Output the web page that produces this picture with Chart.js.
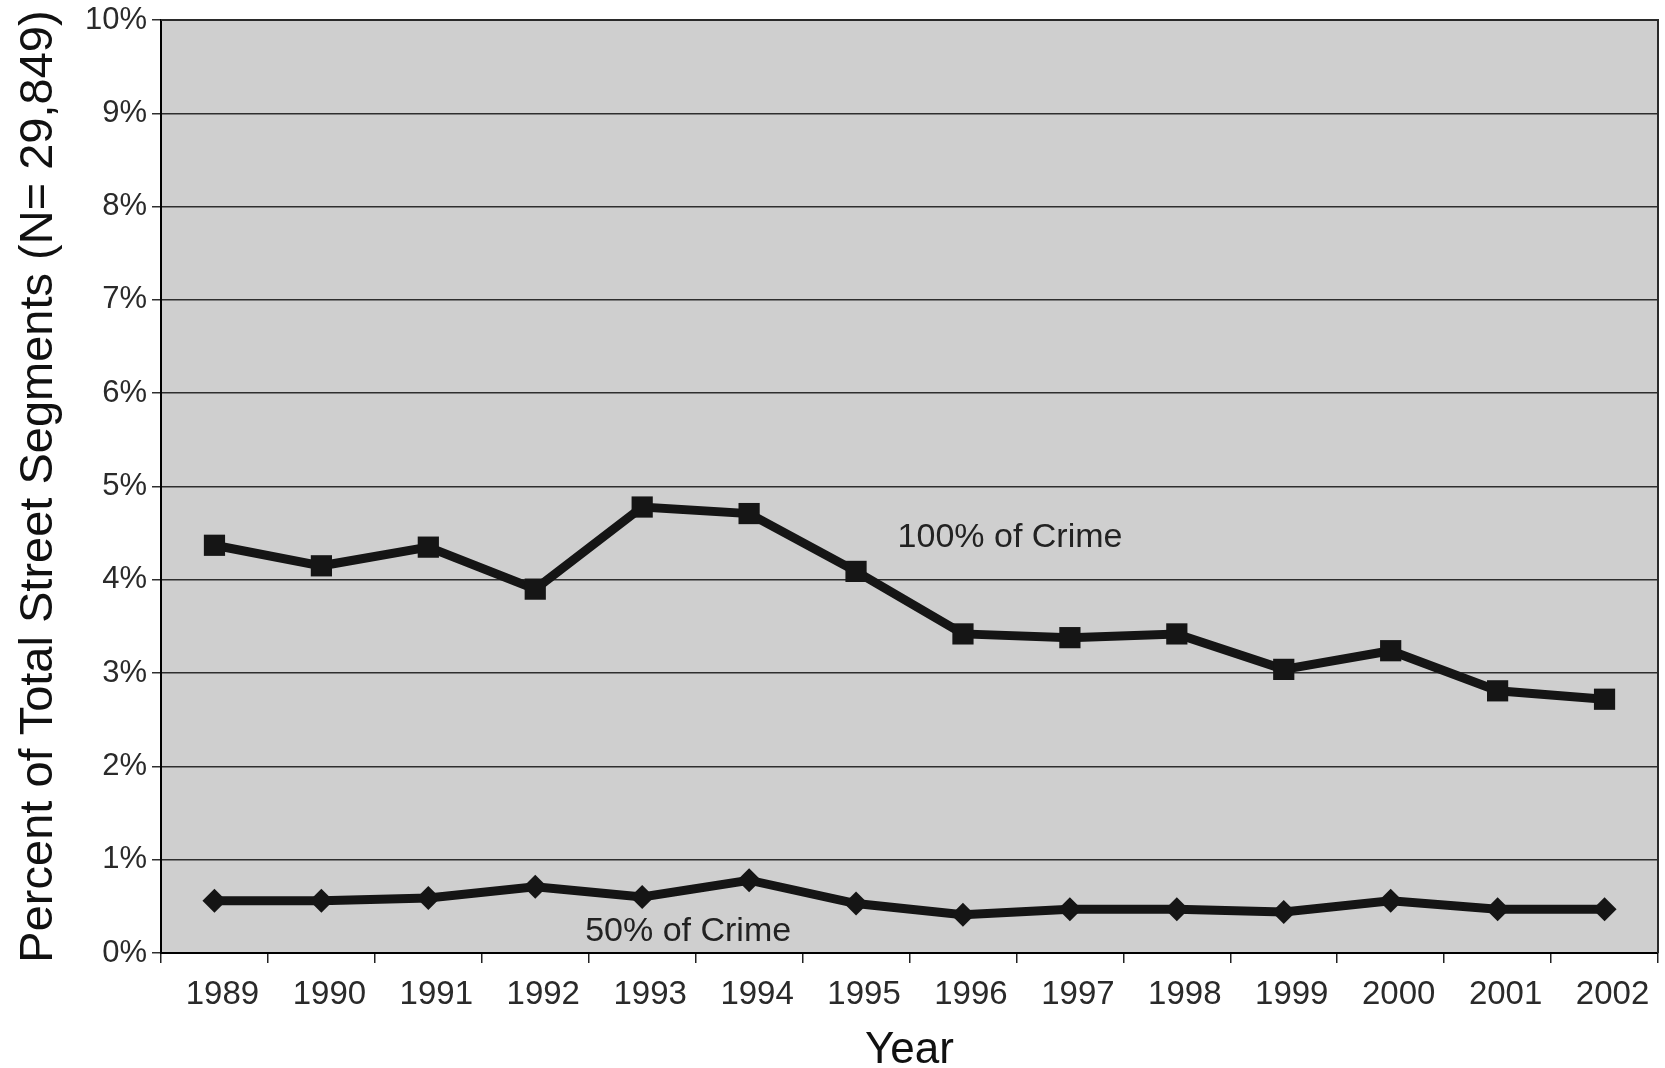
<!DOCTYPE html>
<html>
<head>
<meta charset="utf-8">
<title>Street segments</title>
<script src="https://cdn.jsdelivr.net/npm/chart.js@4/dist/chart.umd.min.js"></script>
<style>
  html, body { margin: 0; padding: 0; background: #fff; }
  #wrap { width: 1665px; height: 1068px; }
</style>
</head>
<body>
<div id="wrap"><canvas id="myChart" width="1665" height="1068"></canvas></div>
<script>
const years = ["1989", "1990", "1991", "1992", "1993", "1994", "1995",
  "1996", "1997", "1998", "1999", "2000", "2001", "2002"];
const crime100 = [4.37, 4.15, 4.35, 3.90, 4.78, 4.71, 4.09, 3.42, 3.38, 3.42, 3.04, 3.24, 2.81, 2.72];
const crime50 = [0.56, 0.56, 0.59, 0.71, 0.60, 0.78, 0.53, 0.41, 0.47, 0.47, 0.44, 0.56, 0.47, 0.47];
const seriesNames = ["100% of Crime", "50% of Crime"];

// where the series names sit (category index, value)
const labelSpots = [
  { text: seriesNames[0], x: 7.44, y: 4.45 },
  { text: seriesNames[1], x: 4.43, y: 0.23 },
];

const FONT = "'Liberation Sans', Arial, Helvetica, sans-serif";
const ink = "#151515";

const plotBox = {
  id: "plotBox",
  beforeDraw(chart) {
    const { ctx, chartArea: a } = chart;
    ctx.save();
    ctx.fillStyle = "#cfcfcf";
    ctx.fillRect(a.left, a.top, a.right - a.left, a.bottom - a.top);
    ctx.restore();
  },
  afterDraw(chart) {
    const { ctx, chartArea: a } = chart;
    ctx.save();
    ctx.strokeStyle = "#2a2a2a";
    ctx.lineWidth = 2;
    ctx.beginPath();
    ctx.moveTo(a.left, a.top);
    ctx.lineTo(a.right, a.top);
    ctx.lineTo(a.right, a.bottom);
    ctx.stroke();
    ctx.restore();
  },
};

const seriesLabels = {
  id: "seriesLabels",
  afterDatasetsDraw(chart) {
    const { ctx, scales } = chart;
    ctx.save();
    ctx.font = "34px " + FONT;
    ctx.fillStyle = "#222";
    ctx.textAlign = "center";
    ctx.textBaseline = "middle";
    labelSpots.forEach((s) => {
      ctx.fillText(s.text, scales.x.getPixelForValue(s.x), scales.y.getPixelForValue(s.y));
    });
    ctx.restore();
  },
};

const myChart = new Chart("myChart", {
  type: "line",
  data: {
    labels: years,
    datasets: [
      {
        label: seriesNames[0],
        data: crime100,
        borderColor: ink,
        backgroundColor: ink,
        borderWidth: 9,
        pointStyle: "rect",
        pointRadius: 15,
        pointBorderWidth: 0,
        tension: 0,
      },
      {
        label: seriesNames[1],
        data: crime50,
        borderColor: ink,
        backgroundColor: ink,
        borderWidth: 9,
        pointStyle: "rectRot",
        pointRadius: 12,
        pointBorderWidth: 0,
        tension: 0,
      },
    ],
  },
  plugins: [plotBox, seriesLabels],
  options: {
    responsive: false,
    animation: false,
    layout: { autoPadding: false, padding: { top: 20, right: 7, bottom: 0, left: 0 } },
    plugins: {
      legend: { display: false },
      tooltip: { enabled: false },
    },
    scales: {
      x: {
        offset: true,
        grid: {
          offset: true,
          drawOnChartArea: false,
          drawTicks: true,
          tickLength: 10,
          color: "#222",
          lineWidth: 1.5,
        },
        border: { color: "#000", width: 2 },
        ticks: {
          color: "#2a2a2a",
          font: { family: FONT, size: 33, lineHeight: 1 },
          padding: 15,
          labelOffset: 8,
          maxRotation: 0,
          autoSkip: false,
        },
        title: {
          display: true,
          text: "Year",
          color: "#111",
          font: { family: FONT, size: 44, lineHeight: 0.8 },
          padding: { top: 0, bottom: 0 },
        },
        afterFit(scale) {
          scale.height = 115;
          scale.paddingLeft = 0;
          scale.paddingRight = 0;
        },
      },
      y: {
        min: 0,
        max: 10,
        grid: {
          color: "#2e2e2e",
          lineWidth: 1.5,
          tickLength: 9,
        },
        border: { color: "#000", width: 2 },
        ticks: {
          stepSize: 1,
          color: "#2a2a2a",
          font: { family: FONT, size: 31 },
          padding: 5,
          callback: (v) => v + "%",
        },
        title: {
          display: true,
          text: "Percent of Total Street Segments (N= 29,849)",
          color: "#111",
          font: { family: FONT, size: 47, lineHeight: 1 },
          padding: { top: 16, bottom: 0 },
        },
        afterFit(scale) {
          scale.width = 161;
          scale.paddingTop = 0;
          scale.paddingBottom = 0;
        },
      },
    },
  },
});
</script>
</body>
</html>
